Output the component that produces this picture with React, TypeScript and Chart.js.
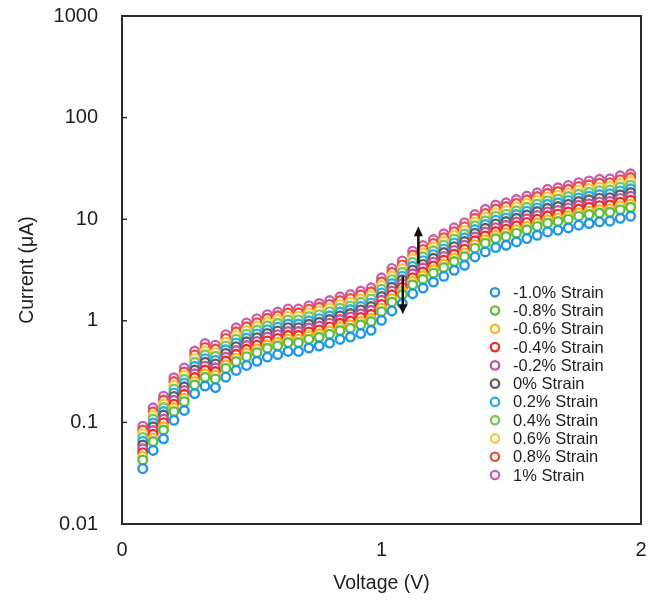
import React, { useEffect, useRef } from "react";
import { Chart, registerables } from "chart.js";

Chart.register(...registerables);

// ---------- data ----------
const voltage = [
  0.08, 0.12, 0.16, 0.2, 0.24, 0.28, 0.32, 0.36, 0.4, 0.44, 0.48, 0.52, 0.56, 0.6, 0.64, 0.68,
  0.72, 0.76, 0.8, 0.84, 0.88, 0.92, 0.96, 1.0, 1.04, 1.08, 1.12, 1.16, 1.2, 1.24, 1.28, 1.32,
  1.36, 1.4, 1.44, 1.48, 1.52, 1.56, 1.6, 1.64, 1.68, 1.72, 1.76, 1.8, 1.84, 1.88, 1.92, 1.96,
];

const strainLabels = [
  "-1.0% Strain", "-0.8% Strain", "-0.6% Strain", "-0.4% Strain", "-0.2% Strain", "0% Strain",
  "0.2% Strain", "0.4% Strain", "0.6% Strain", "0.8% Strain", "1% Strain",
];

const strainColors = [
  "rgb(30,150,230)", "rgb(95,190,60)", "rgb(250,180,30)", "rgb(235,45,40)", "rgb(190,85,160)",
  "rgb(95,95,95)", "rgb(45,170,240)", "rgb(120,200,90)", "rgb(250,200,70)", "rgb(232,80,60)",
  "rgb(200,95,180)",
];

const strainM10 = [
  0.035, 0.053, 0.069, 0.105, 0.131, 0.192, 0.228, 0.22, 0.279, 0.325, 0.364, 0.399, 0.44, 0.465, 0.5, 0.5,
  0.54, 0.565, 0.604, 0.657, 0.692, 0.748, 0.806, 1.01, 1.25, 1.48, 1.85, 2.1, 2.41, 2.74, 3.14, 3.52,
  4.25, 4.76, 5.26, 5.54, 5.97, 6.45, 6.95, 7.5, 7.79, 8.21, 8.73, 9.07, 9.41, 9.56, 10.2, 10.7,
];
const strainM08 = [
  0.0427, 0.0647, 0.0842, 0.128, 0.16, 0.234, 0.278, 0.268, 0.34, 0.397, 0.444, 0.487, 0.537, 0.567, 0.61, 0.61,
  0.659, 0.689, 0.737, 0.802, 0.844, 0.913, 0.983, 1.23, 1.53, 1.81, 2.26, 2.56, 2.94, 3.34, 3.83, 4.29,
  5.19, 5.81, 6.42, 6.76, 7.28, 7.87, 8.48, 9.15, 9.5, 10.0, 10.7, 11.1, 11.5, 11.7, 12.4, 13.1,
];
const strainM06 = [
  0.0462, 0.07, 0.0911, 0.139, 0.173, 0.253, 0.301, 0.29, 0.368, 0.429, 0.48, 0.527, 0.581, 0.614, 0.66, 0.66,
  0.713, 0.746, 0.797, 0.867, 0.913, 0.987, 1.06, 1.33, 1.65, 1.95, 2.44, 2.77, 3.18, 3.62, 4.14, 4.65,
  5.61, 6.28, 6.94, 7.31, 7.88, 8.51, 9.17, 9.9, 10.3, 10.8, 11.5, 12.0, 12.4, 12.6, 13.5, 14.1,
];
const strainM04 = [
  0.0504, 0.0763, 0.0994, 0.151, 0.189, 0.276, 0.328, 0.317, 0.402, 0.468, 0.524, 0.575, 0.634, 0.67, 0.72, 0.72,
  0.778, 0.814, 0.87, 0.946, 0.996, 1.08, 1.16, 1.45, 1.8, 2.13, 2.66, 3.02, 3.47, 3.95, 4.52, 5.07,
  6.12, 6.85, 7.57, 7.98, 8.6, 9.29, 10.0, 10.8, 11.2, 11.8, 12.6, 13.1, 13.6, 13.8, 14.7, 15.4,
];
const strainM02 = [
  0.055, 0.0832, 0.108, 0.165, 0.206, 0.301, 0.358, 0.345, 0.438, 0.51, 0.571, 0.626, 0.691, 0.73, 0.785, 0.785,
  0.848, 0.887, 0.948, 1.03, 1.09, 1.17, 1.27, 1.59, 1.96, 2.32, 2.9, 3.3, 3.78, 4.3, 4.93, 5.53,
  6.67, 7.47, 8.26, 8.7, 9.37, 10.1, 10.9, 11.8, 12.2, 12.9, 13.7, 14.2, 14.8, 15.0, 16.0, 16.8,
];
const strain00 = [
  0.0599, 0.0906, 0.118, 0.18, 0.224, 0.328, 0.39, 0.376, 0.477, 0.556, 0.622, 0.682, 0.752, 0.795, 0.855, 0.855,
  0.923, 0.966, 1.03, 1.12, 1.18, 1.28, 1.38, 1.73, 2.14, 2.53, 3.16, 3.59, 4.12, 4.69, 5.37, 6.02,
  7.27, 8.14, 8.99, 9.47, 10.2, 11.0, 11.9, 12.8, 13.3, 14.0, 14.9, 15.5, 16.1, 16.3, 17.4, 18.3,
];
const strainP02 = [
  0.0651, 0.0986, 0.128, 0.195, 0.244, 0.357, 0.424, 0.409, 0.519, 0.605, 0.677, 0.742, 0.818, 0.865, 0.93, 0.93,
  1.0, 1.05, 1.12, 1.22, 1.29, 1.39, 1.5, 1.88, 2.33, 2.75, 3.44, 3.91, 4.48, 5.1, 5.84, 6.55,
  7.91, 8.85, 9.78, 10.3, 11.1, 12.0, 12.9, 14.0, 14.5, 15.3, 16.2, 16.9, 17.5, 17.8, 19.0, 19.9,
];
const strainP04 = [
  0.0711, 0.108, 0.14, 0.213, 0.266, 0.39, 0.463, 0.447, 0.566, 0.66, 0.739, 0.81, 0.893, 0.944, 1.02, 1.02,
  1.1, 1.15, 1.23, 1.33, 1.4, 1.52, 1.64, 2.05, 2.54, 3.0, 3.76, 4.26, 4.89, 5.56, 6.37, 7.15,
  8.63, 9.66, 10.7, 11.2, 12.1, 13.1, 14.1, 15.2, 15.8, 16.7, 17.7, 18.4, 19.1, 19.4, 20.7, 21.7,
];
const strainP06 = [
  0.0774, 0.117, 0.152, 0.232, 0.29, 0.424, 0.504, 0.486, 0.617, 0.718, 0.804, 0.882, 0.972, 1.03, 1.11, 1.11,
  1.19, 1.25, 1.33, 1.45, 1.53, 1.65, 1.78, 2.23, 2.76, 3.27, 4.09, 4.64, 5.33, 6.06, 6.94, 7.78,
  9.39, 10.5, 11.6, 12.2, 13.2, 14.3, 15.4, 16.6, 17.2, 18.1, 19.3, 20.0, 20.8, 21.1, 22.5, 23.6,
];
const strainP08 = [
  0.084, 0.127, 0.166, 0.252, 0.314, 0.461, 0.547, 0.528, 0.67, 0.78, 0.874, 0.958, 1.06, 1.12, 1.2, 1.2,
  1.3, 1.36, 1.45, 1.58, 1.66, 1.8, 1.93, 2.42, 3.0, 3.55, 4.44, 5.04, 5.78, 6.58, 7.54, 8.45,
  10.2, 11.4, 12.6, 13.3, 14.3, 15.5, 16.7, 18.0, 18.7, 19.7, 21.0, 21.8, 22.6, 22.9, 24.5, 25.7,
];
const strainP10 = [
  0.0917, 0.139, 0.181, 0.275, 0.343, 0.503, 0.597, 0.576, 0.731, 0.852, 0.954, 1.05, 1.15, 1.22, 1.31, 1.31,
  1.41, 1.48, 1.58, 1.72, 1.81, 1.96, 2.11, 2.65, 3.28, 3.88, 4.85, 5.5, 6.31, 7.18, 8.23, 9.22,
  11.1, 12.5, 13.8, 14.5, 15.6, 16.9, 18.2, 19.7, 20.4, 21.5, 22.9, 23.8, 24.7, 25.0, 26.7, 28.0,
];

const seriesList = [
  strainM10, strainM08, strainM06, strainM04, strainM02, strain00,
  strainP02, strainP04, strainP06, strainP08, strainP10,
];

const yTickValues = [0.01, 0.1, 1, 10, 100, 1000];
const yTickLabels = ["0.01", "0.1", "1", "10", "100", "1000"];
const xTickValues = [0, 1, 2];
const xTickLabels = ["0", "1", "2"];

// arrows: voltage position, start current, end current (tip)
const arrowUp = { v: 1.142, from: 3.66, to: 8.5 };
const arrowDown = { v: 1.082, from: 2.74, to: 1.16 };

const FONT = '"Liberation Sans", Arial, Helvetica, sans-serif';
const TEXT = "#1e1e1e";

const framePlugin = {
  id: "frame",
  afterDraw(chart: any) {
    const { ctx, chartArea } = chart;
    const ys = chart.scales.y;
    ctx.save();
    ctx.strokeStyle = "#2a2a2a";
    ctx.lineWidth = 2;
    ctx.strokeRect(chartArea.left, chartArea.top, chartArea.right - chartArea.left, chartArea.bottom - chartArea.top);
    ctx.lineWidth = 1.5;
    yTickValues.forEach((v) => {
      const py = ys.getPixelForValue(v);
      ctx.beginPath();
      ctx.moveTo(chartArea.left, py);
      ctx.lineTo(chartArea.left + 5, py);
      ctx.stroke();
    });
    ctx.restore();
  },
};

function drawArrow(ctx: any, x: number, y1: number, y2: number) {
  const dir = y2 < y1 ? -1 : 1;
  const head = 10;
  ctx.beginPath();
  ctx.moveTo(x, y1);
  ctx.lineTo(x, y2 - dir * head * 0.8);
  ctx.stroke();
  ctx.beginPath();
  ctx.moveTo(x, y2);
  ctx.lineTo(x - 4.5, y2 - dir * head);
  ctx.lineTo(x + 4.5, y2 - dir * head);
  ctx.closePath();
  ctx.fill();
}

const arrowPlugin = {
  id: "arrows",
  afterDatasetsDraw(chart: any) {
    const { ctx } = chart;
    const xs = chart.scales.x;
    const ys = chart.scales.y;
    ctx.save();
    ctx.strokeStyle = "#111";
    ctx.fillStyle = "#111";
    ctx.lineWidth = 2.5;
    [arrowUp, arrowDown].forEach((a) => {
      drawArrow(ctx, xs.getPixelForValue(a.v), ys.getPixelForValue(a.from), ys.getPixelForValue(a.to));
    });
    ctx.restore();
  },
};

const legendPlugin = {
  id: "insideLegend",
  afterDraw(chart: any) {
    const { ctx, chartArea } = chart;
    const x0 = chartArea.left + 373;
    const y0 = chartArea.top + 276.3;
    const dy = 18.27;
    ctx.save();
    chart.data.datasets.forEach((ds: any, i: number) => {
      const y = y0 + i * dy;
      ctx.beginPath();
      ctx.arc(x0, y, 4.2, 0, Math.PI * 2);
      ctx.fillStyle = "#fff";
      ctx.fill();
      ctx.lineWidth = 2.3;
      ctx.strokeStyle = ds.borderColor;
      ctx.stroke();
      ctx.fillStyle = TEXT;
      ctx.font = `16.5px ${FONT}`;
      ctx.textAlign = "left";
      ctx.textBaseline = "middle";
      ctx.fillText(ds.label, x0 + 18, y + 1);
    });
    ctx.restore();
  },
};

export default function App() {
  const canvasRef = useRef<HTMLCanvasElement | null>(null);

  useEffect(() => {
    if (!canvasRef.current) return;
    const datasets = seriesList.map((s, i) => ({
      label: strainLabels[i],
      data: s.map((y, j) => ({ x: voltage[j], y })),
      showLine: false,
      borderColor: strainColors[i],
      backgroundColor: "#ffffff",
      pointRadius: 4.3,
      pointBorderWidth: 2.4,
      pointHoverRadius: 4.3,
    }));

    const chart = new Chart(canvasRef.current, {
      type: "scatter",
      data: { datasets },
      plugins: [framePlugin, arrowPlugin, legendPlugin],
      options: {
        animation: false,
        responsive: false,
        maintainAspectRatio: false,
        devicePixelRatio: 1,
        layout: { padding: { left: 0, top: 8, right: 7, bottom: 0 } },
        plugins: {
          legend: { display: false },
          tooltip: { enabled: false },
        },
        scales: {
          x: {
            type: "linear",
            min: 0,
            max: 2,
            grid: { display: false, drawTicks: false },
            border: { display: false },
            afterBuildTicks: (scale: any) => {
              scale.ticks = xTickValues.map((v) => ({ value: v }));
            },
            afterFit: (scale: any) => {
              scale.height = 69;
              scale.paddingLeft = 0;
              scale.paddingRight = 0;
            },
            ticks: {
              autoSkip: false,
              maxRotation: 0,
              padding: 14,
              color: TEXT,
              font: { family: FONT, size: 20 },
              callback: (_v: any, i: number) => xTickLabels[i],
            },
            title: {
              display: true,
              text: "Voltage (V)",
              color: TEXT,
              font: { family: FONT, size: 19.5, lineHeight: 1 },
              padding: { top: 0, bottom: 0 },
            },
          },
          y: {
            type: "logarithmic",
            min: 0.01,
            max: 1000,
            grid: { display: false, drawTicks: false },
            border: { display: false },
            afterBuildTicks: (scale: any) => {
              scale.ticks = yTickValues.map((v) => ({ value: v }));
            },
            afterFit: (scale: any) => {
              scale.width = 114;
              scale.paddingTop = 0;
              scale.paddingBottom = 0;
            },
            ticks: {
              autoSkip: false,
              padding: 24,
              color: TEXT,
              font: { family: FONT, size: 20 },
              callback: (_v: any, i: number) => yTickLabels[i],
            },
            title: {
              display: true,
              text: "Current (μA)",
              color: TEXT,
              font: { family: FONT, size: 19.5, lineHeight: 1.2 },
              padding: { top: 8.3, bottom: 0 },
            },
          },
        },
      } as any,
    });
    return () => chart.destroy();
  }, []);

  return (
    <div style={{ width: 640, height: 585 }}>
      <canvas ref={canvasRef} width={640} height={585} style={{ width: 640, height: 585 }} />
    </div>
  );
}
